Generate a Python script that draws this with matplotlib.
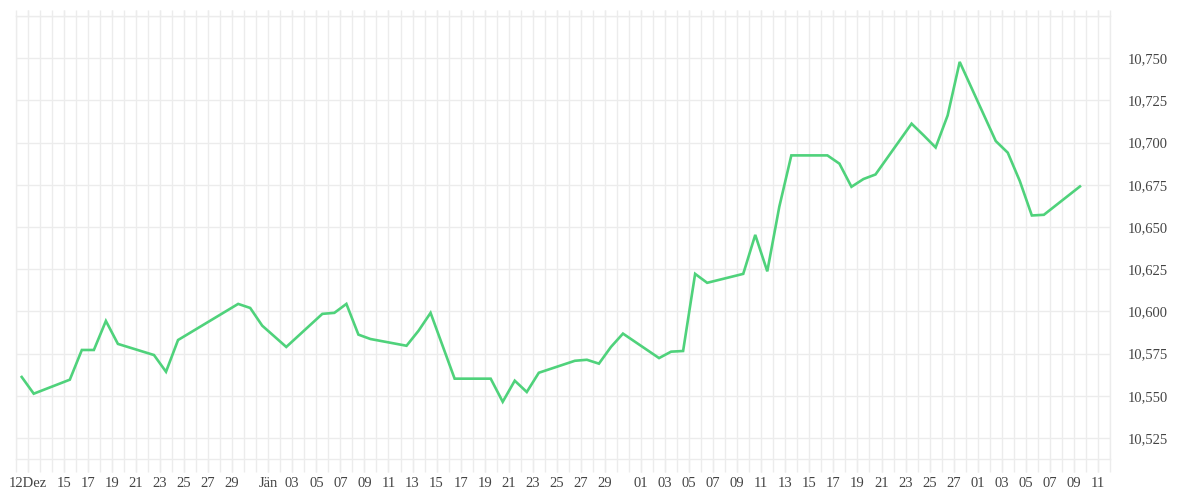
import pandas as pd
import numpy as np
from matplotlib import pyplot as plt
import datetime

# daily closing values (timestamps at midday, as plotted)
dates = ['2025-12-11', '2025-12-12', '2025-12-15', '2025-12-16', '2025-12-17',
         '2025-12-18', '2025-12-19', '2025-12-22', '2025-12-23', '2025-12-24',
         '2025-12-29', '2025-12-30', '2025-12-31', '2026-01-02', '2026-01-05',
         '2026-01-06', '2026-01-07', '2026-01-08', '2026-01-09', '2026-01-12',
         '2026-01-13', '2026-01-14', '2026-01-16', '2026-01-19', '2026-01-20',
         '2026-01-21', '2026-01-22', '2026-01-23', '2026-01-26', '2026-01-27',
         '2026-01-28', '2026-01-29', '2026-01-30', '2026-02-02', '2026-02-03',
         '2026-02-04', '2026-02-05', '2026-02-06', '2026-02-09', '2026-02-10',
         '2026-02-11', '2026-02-12', '2026-02-13', '2026-02-16', '2026-02-17',
         '2026-02-18', '2026-02-19', '2026-02-20', '2026-02-23', '2026-02-24',
         '2026-02-25', '2026-02-26', '2026-02-27', '2026-03-02', '2026-03-03',
         '2026-03-04', '2026-03-05', '2026-03-06', '2026-03-09']
values = [10.5611, 10.5512, 10.5595, 10.5771, 10.5771,
          10.5943, 10.5807, 10.5741, 10.5642, 10.5830,
          10.6044, 10.6020, 10.5915, 10.5789, 10.5985,
          10.5991, 10.6044, 10.5862, 10.5836, 10.5796,
          10.5885, 10.5991, 10.5601, 10.5601, 10.5464,
          10.5589, 10.5522, 10.5636, 10.5707, 10.5713,
          10.5690, 10.5789, 10.5868, 10.5723, 10.5761,
          10.5765, 10.6222, 10.6169, 10.6222, 10.6453,
          10.6237, 10.6620, 10.6924, 10.6924, 10.6875,
          10.6738, 10.6784, 10.6811, 10.7112, 10.7043,
          10.6971, 10.7161, 10.7478, 10.7009, 10.6940,
          10.6772, 10.6568, 10.6572, 10.6740]

y_ticks = [10.525, 10.550, 10.575, 10.600, 10.625, 10.650, 10.675, 10.700, 10.725, 10.750, 10.775]
y_labels = ['10,525', '10,550', '10,575', '10,600', '10,625', '10,650', '10,675', '10,700', '10,725', '10,750', '']

# labelled days on the x axis
x_label_days = ['2025-12-12'] + ['2025-12-%02d' % d for d in range(15, 30, 2)] + \
               ['2026-01-01'] + ['2026-01-%02d' % d for d in range(3, 30, 2)] + \
               ['2026-02-01'] + ['2026-02-%02d' % d for d in range(3, 28, 2)] + \
               ['2026-03-01'] + ['2026-03-%02d' % d for d in range(3, 12, 2)]
x_label_text = ['12Dez'] + ['%02d' % d for d in range(15, 30, 2)] + \
               ['Jän'] + ['%02d' % d for d in range(3, 30, 2)] + \
               ['01'] + ['%02d' % d for d in range(3, 28, 2)] + \
               ['01'] + ['%02d' % d for d in range(3, 12, 2)]

grid_col = '#ececec'
line_col = '#4fd27b'
text_col = '#444444'

df = pd.DataFrame({'date': pd.to_datetime(dates) + pd.Timedelta(hours=12), 'value': values})

fig = plt.figure(figsize=(12, 5), dpi=100)
ax = fig.add_axes([15.7 / 1200, 1 - 459 / 500, (1110 - 15.7) / 1200, (459 - 16) / 500])

ax.plot(df['date'], df['value'], color=line_col, linewidth=1.9, solid_joinstyle='miter', zorder=3)

start = datetime.datetime(2025, 12, 11)
end = datetime.datetime(2026, 3, 12)
ax.set_xlim(start, end)
ax.set_ylim(10.5125, 10.775)

# daily vertical grid
all_days = pd.date_range(start, end, freq='D')
ax.xaxis.remove_overlapping_locs = False
ax.set_xticks(all_days, minor=True)
ax.set_xticks(pd.to_datetime(x_label_days))
ax.set_xticklabels(x_label_text)
ax.grid(which='minor', axis='x', color=grid_col, linewidth=1)
ax.tick_params(axis='x', which='both', length=9, color=grid_col, width=1, pad=4,
               labelsize=10.5, labelcolor=text_col, top=True, direction='out')

ax.set_yticks(y_ticks)
ax.set_yticklabels(y_labels)
ax.yaxis.tick_right()
ax.grid(which='major', axis='y', color=grid_col, linewidth=1)
ax.tick_params(axis='y', length=0, pad=13, labelsize=10.5, labelcolor=text_col)

# short grid stubs above the top edge
for t in ax.xaxis.get_minor_ticks() + ax.xaxis.get_major_ticks():
    t.tick2line.set_markersize(4)

for lbl in ax.get_xticklabels() + ax.get_yticklabels():
    lbl.set_fontfamily('Liberation Serif')

for s in ax.spines.values():
    s.set_color(grid_col)
    s.set_linewidth(1)

plt.savefig('out.png', dpi=100)
